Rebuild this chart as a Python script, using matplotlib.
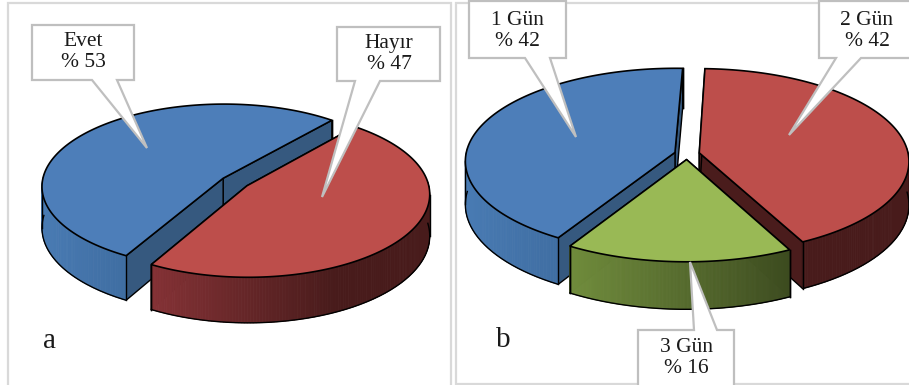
import numpy as np
import matplotlib
matplotlib.use("Agg")
import matplotlib.pyplot as plt
from matplotlib.collections import PolyCollection
from matplotlib.patches import Polygon, Rectangle

plt.rcParams['font.family'] = ['Liberation Serif', 'DejaVu Serif']

# survey answers, panel a
labels_a = ["Evet", "Hayır"]
values_a = [53, 47]

# survey answers, panel b
labels_b = ["1 Gün", "2 Gün", "3 Gün"]
values_b = [42, 42, 16]

TOP = {"blue": "#4d7eb9", "red": "#bd4e4b", "green": "#99b955"}
CUT = {"blue": "#36597f", "red": "#4a1c1c", "green": "#3a481e"}
SIDE = {
    "blue": [(72, 122, 178), (62, 108, 160), (53, 88, 130)],
    "red": [(150, 58, 60), (138, 52, 56), (72, 27, 27)],
    "green": [(120, 150, 65), (112, 140, 60), (58, 72, 30)],
}


def draw_pie(ax, values, colors, start, cx, cy, a, b, k, d, explode):
    def project(x, y, z=0.0):
        w = 1 + k * np.asarray(y)
        return cx + a * np.asarray(x) / w, cy - b * np.asarray(y) / w + z * d / w

    # wedge angles, counter clockwise from the start angle
    spans = np.array(values) / sum(values) * 360
    wedges = []
    ang = start
    for v, c, s in zip(values, colors, spans):
        wedges.append((ang, ang + s, c))
        ang += s
    # far wedges first
    wedges.sort(key=lambda t: -np.sin(np.radians((t[0] + t[1]) / 2)))

    zo = 1.0
    for a0, a1, c in wedges:
        mid = np.radians((a0 + a1) / 2)
        ox, oy = explode * np.cos(mid), explode * np.sin(mid)
        th = np.radians(np.linspace(a0, a1, 200))
        wx, wy = ox + np.cos(th), oy + np.sin(th)

        # cut faces
        for i in (0, -1):
            ex = [ox, wx[i], wx[i], ox]
            ey = [oy, wy[i], wy[i], oy]
            zz = [0, 0, 1, 1]
            pts = [project(p, q, z) for p, q, z in zip(ex, ey, zz)]
            ax.add_patch(Polygon(pts, closed=True, fc=CUT[c], ec="black", lw=1.0, zorder=zo))
        zo += 0.01

        # outer side with a left to right shade, front part of the rim only
        sx0, sy0 = project(wx, wy)
        sx1, sy1 = project(wx, wy, 1.0)
        front = np.sin(th) < 0.05
        quads, shades = [], []
        stops = np.array(SIDE[c]) / 255
        for i in range(len(th) - 1):
            if not front[i]:
                continue
            quads.append([(sx0[i], sy0[i]), (sx0[i + 1], sy0[i + 1]),
                          (sx1[i + 1], sy1[i + 1]), (sx1[i], sy1[i])])
            t = (wx[i] + 1) / 2
            shades.append([np.interp(t, [0, 0.25, 0.75], stops[:, j]) for j in range(3)])
        ax.add_collection(PolyCollection(quads, facecolors=shades, edgecolors=shades,
                                         linewidths=0.6, zorder=zo))
        zo += 0.01
        # wedges crossing the front edge twice need the two runs drawn apart
        bx, by = sx1.copy(), sy1.copy()
        bx[~front] = np.nan
        by[~front] = np.nan
        ax.plot(bx, by, color="black", lw=1.0, zorder=zo)
        for i in (0, -1, int(np.argmin(sx0)), int(np.argmax(sx0))):
            ax.plot([sx0[i], sx1[i]], [sy0[i], sy1[i]], color="black", lw=1.0, zorder=zo)
        zo += 0.01

        # top face
        tx, ty = project(np.r_[ox, wx], np.r_[oy, wy])
        ax.add_patch(Polygon(np.c_[tx, ty], closed=True, fc=TOP[c], ec="black", lw=1.2, zorder=zo))
        zo += 0.01


def callout(ax, x0, y0, x1, y1, tx0, tx1, tip, text, text_x, text_y):
    # tx0, tx1: where the tail leaves the box, tail on the side nearest the tip
    if tip[1] > y1:
        pts = [(x0, y0), (x1, y0), (x1, y1), (tx1, y1), tip, (tx0, y1), (x0, y1)]
    else:
        pts = [(x0, y0), (tx0, y0), tip, (tx1, y0), (x1, y0), (x1, y1), (x0, y1)]
    ax.add_patch(Polygon(pts, closed=True, fc="white", ec="#bfbfbf", lw=1.6, zorder=5, joinstyle="miter"))
    ax.text(text_x, text_y, text, ha="center", va="center", fontsize=15.5,
            linespacing=1.2, color="#1a1a1a", zorder=6)


fig = plt.figure(figsize=(9.09, 3.85), dpi=100)
ax = fig.add_axes([0, 0, 1, 1])
ax.set_xlim(0, 909)
ax.set_ylim(385, 0)
ax.axis("off")

# panel frames
ax.add_patch(Rectangle((7.5, 3), 443, 390, fc="white", ec="#d9d9d9", lw=1.6, zorder=0.5))
ax.add_patch(Rectangle((456, 3), 460, 381, fc="white", ec="#d9d9d9", lw=1.6, zorder=0.5))

draw_pie(ax, values_a, ["blue", "red"], 50, 235, 182, 181, 82, 0.096, 41, 0.08)

# order around panel b is 1 Gün, 3 Gün, 2 Gün going counter clockwise
draw_pie(ax, [values_b[0], values_b[2], values_b[1]], ["blue", "green", "red"],
         88, 687, 154, 209, 92, 0.09, 43, 0.06)

callout(ax, 32, 25, 134, 80, 92, 117, (147, 148),
        f"{labels_a[0]}\n% {values_a[0]}", 83, 52)
callout(ax, 337, 27, 440, 81, 355, 380, (322, 197),
        f"{labels_a[1]}\n% {values_a[1]}", 389, 54)
callout(ax, 469, 1, 566, 58, 525, 550, (576, 137),
        f"{labels_b[0]}\n% {values_b[0]}", 517, 31)
callout(ax, 819, 1, 915, 58, 836, 861, (789, 135),
        f"{labels_b[1]}\n% {values_b[1]}", 867, 31)
callout(ax, 638, 330, 734, 392, 694, 717, (690, 262),
        f"{labels_b[2]}\n% {values_b[2]}", 686, 358)

ax.text(49, 341, "a", ha="center", va="center", fontsize=21, color="#1a1a1a")
ax.text(503, 340, "b", ha="center", va="center", fontsize=21, color="#1a1a1a")

fig.savefig("out.png", dpi=100)
